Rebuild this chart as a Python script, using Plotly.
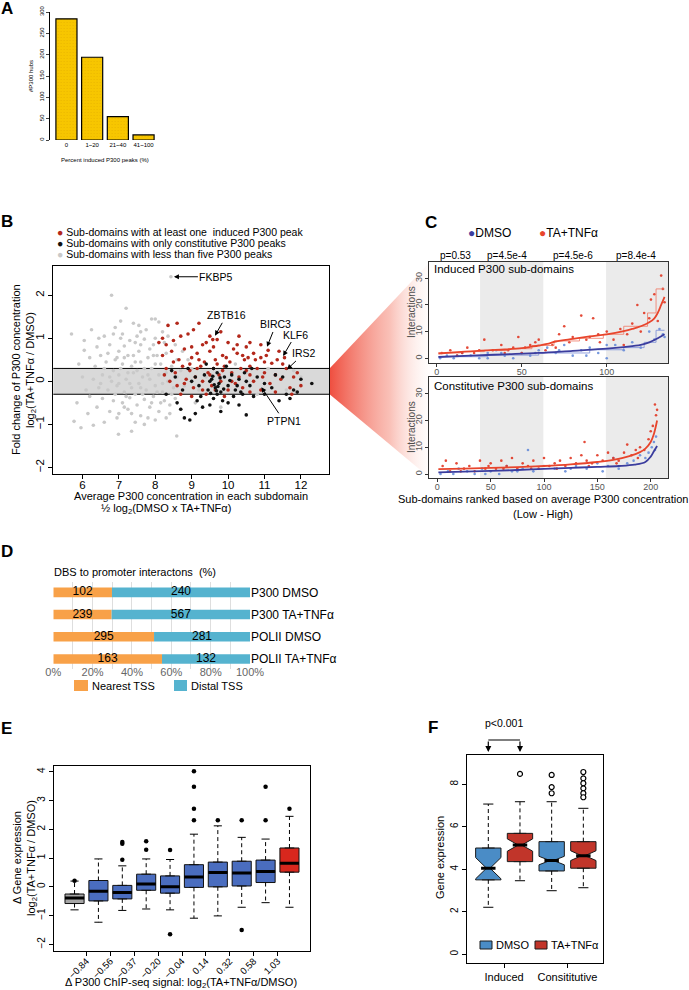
import plotly.graph_objects as go

W, H = 689, 990
FONT = "Liberation Sans, Arial, Helvetica, sans-serif"

# ---------------- data ----------------
# Panel A
a_bins = ["0", "1~20", "21~40", "41~100"]
a_hubs = [284, 194, 55, 12]

# Panel B  (average concentration, log2 fold change)
b_gray = [
    (8.43, 2.43), (6.8, 2.0), (7.2, 1.7), (5.7, 1.1), (6.05, 0.72), (6.6, 1.05), (6.9, 1.25), (7.4, 1.35), (7.9, 1.45), (8.1, 1.38),
    (7.6, 1.15), (7.05, 1.0), (7.3, 0.95), (6.4, 0.8), (6.2, 0.55), (6.5, 0.6), (6.75, 0.85), (7.0, 0.7), (7.15, 0.82), (7.45, 0.9),
    (7.7, 0.98), (7.85, 0.75), (8.0, 1.0), (8.25, 0.9), (6.9, 0.5), (7.25, 0.6), (7.55, 0.7), (7.8, 0.55), (8.05, 0.6), (8.3, 0.65),
    (6.35, 0.35), (6.6, 0.3), (6.85, 0.25), (7.1, 0.4), (7.35, 0.35), (7.6, 0.45), (7.9, 0.3), (8.15, 0.4), (8.45, 0.35), (6.0, 0.1),
    (6.3, 0.05), (6.55, 0.15), (6.8, 0.0), (7.0, 0.15), (7.2, 0.05), (7.4, 0.2), (7.65, 0.1), (7.85, 0.05), (8.1, 0.15), (8.35, 0.0),
    (8.6, 0.1), (6.45, -0.15), (6.7, -0.2), (6.95, -0.1), (7.15, -0.25), (7.35, -0.15), (7.55, -0.05), (7.75, -0.2), (8.0, -0.1), (8.2, -0.25),
    (8.5, -0.15), (6.2, -0.35), (6.55, -0.4), (6.85, -0.45), (7.1, -0.5), (7.3, -0.38), (7.5, -0.55), (7.7, -0.42), (7.95, -0.35), (8.25, -0.45),
    (8.55, -0.4), (6.4, -0.6), (6.75, -0.7), (7.0, -0.75), (7.25, -0.65), (7.6, -0.8), (7.85, -0.6), (8.1, -0.7), (8.4, -0.55), (8.7, -0.65),
    (5.77, -0.93), (5.96, -1.08), (6.3, -1.02), (6.6, -0.95), (6.99, -1.23), (7.35, -1.16), (7.7, -1.0), (8.0, -0.9), (8.59, -1.27), (8.3, -0.85),
    (6.15, -0.75), (7.45, -0.95), (7.5, 0.25), (7.65, -0.3), (7.3, -0.05), (7.05, 0.3), (7.8, 0.15), (8.0, 0.4), (7.2, -0.35), (6.95, 0.55),
    (7.4, 0.6), (7.15, -0.6), (7.6, 0.85), (8.3, 0.2), (8.45, -0.3), (8.7, 0.25), (8.8, -0.1), (9.0, 0.3), (9.2, -0.2), (8.9, 0.5),
    (9.4, 0.1), (9.1, -0.5), (10.5, 0.2), (11.1, 0.3), (11.8, 0.25), (12.0, 0.1), (10.8, -0.3), (11.6, -0.2), (9.8, -0.6), (10.2, 0.4),
    (6.25, 1.2), (6.45, 1.0), (5.9, 0.4), (6.1, -0.2), (5.85, -0.5), (6.05, 0.95), (7.1, 1.1), (7.5, 1.05), (7.75, 1.2), (6.7, 0.65),
    (7.95, 0.85), (8.2, 1.15), (7.25, 0.2), (7.45, -0.3), (7.9, -0.5), (6.9, -0.3), (7.6, -0.15), (8.05, -0.25), (7.0, -0.05), (7.7, 0.3),
    (7.15, 0.55), (6.65, 0.45), (8.15, -0.5), (7.35, -0.75), (6.95, -0.85), (7.8, -0.85), (8.4, -0.75), (8.6, 0.5), (8.75, 0.7), (8.35, 1.05),
    (7.55, 1.3), (6.85, 1.1), (7.05, 1.4), (8.55, 0.85), (8.0, 1.45), (6.5, -0.05), (6.75, 0.1), (7.45, 0.45), (7.95, 0.6), (8.2, -0.05),
]
b_red = [
    (8.2, 1.0), (8.35, 1.3), (8.6, 1.35), (9.2, 1.35), (9.7, 0.97), (10.6, 0.9), (11.1, 0.72), (11.35, 0.5), (11.2, 0.42), (8.1, 0.9),
    (8.3, 0.85), (8.5, 0.95), (8.7, 1.05), (8.9, 1.1), (9.0, 0.8), (9.3, 0.85), (9.5, 1.05), (9.8, 1.15), (10.0, 0.9), (10.3, 1.05),
    (10.7, 0.65), (10.9, 0.55), (11.5, 0.4), (11.6, 0.3), (11.8, 0.1), (12.0, -0.1), (8.2, 0.6), (8.45, 0.7), (8.65, 0.5), (8.8, 0.75),
    (9.0, 0.55), (9.15, 0.65), (9.35, 0.45), (9.5, 0.7), (9.65, 0.5), (9.85, 0.6), (10.05, 0.45), (10.25, 0.65), (10.45, 0.5), (10.6, 0.35),
    (10.8, 0.3), (11.0, 0.2), (11.3, 0.15), (8.3, 0.3), (8.55, 0.2), (8.75, 0.35), (8.95, 0.25), (9.1, 0.1), (9.25, 0.35), (9.45, 0.2),
    (9.6, 0.3), (9.75, 0.15), (9.9, 0.35), (10.1, 0.2), (10.3, 0.1), (10.5, 0.25), (10.7, 0.0), (10.95, 0.1), (11.15, -0.05), (11.45, 0.05),
    (11.7, -0.15), (8.4, 0.0), (8.6, -0.1), (8.85, 0.05), (9.05, -0.15), (9.3, 0.0), (9.55, -0.1), (9.8, 0.0), (10.0, -0.2), (10.2, -0.05),
    (10.4, -0.15), (10.6, -0.25), (10.9, -0.2), (11.3, -0.25), (11.75, -0.3), (9.0, -0.35), (9.4, -0.3), (9.9, -0.35), (8.7, -0.3), (9.6, 0.8),
    (9.4, 0.9), (10.15, 0.75), (10.5, 0.8), (9.05, 1.2), (8.95, 0.4), (9.7, 0.4), (10.35, 0.3), (9.2, 0.5), (8.5, 0.45), (10.75, 0.5),
    (11.05, 0.6), (9.95, 0.55), (10.9, 0.85), (11.4, 0.7), (10.4, 0.6), (9.15, 0.3), (9.5, 0.15), (8.8, -0.05), (9.3, -0.2), (10.1, 0.0),
    (10.6, 0.15), (11.0, 0.45), (9.85, 0.25), (10.55, 0.55), (9.58, 0.97), (11.55, 0.55), (11.9, 0.2), (8.25, 0.15), (9.65, -0.2), (10.25, 0.85),
]
b_black = [
    (8.3, -0.3), (8.45, 0.25), (8.6, -0.5), (8.7, -0.65), (8.8, -0.85), (8.95, -0.9), (9.1, -0.75), (9.3, -0.6), (9.5, -0.55), (9.6, -0.4),
    (9.8, -0.7), (10.0, -0.5), (10.3, -0.55), (10.5, -0.78), (10.7, -0.35), (11.0, -0.3), (11.6, -0.3), (11.8, -0.2), (12.3, -0.05), (12.0, 0.05),
    (11.5, 0.1), (8.9, 0.3), (9.1, 0.1), (9.2, -0.1), (9.35, 0.15), (9.45, -0.2), (9.55, 0.05), (9.65, -0.15), (9.7, 0.2), (9.75, -0.05),
    (9.8, -0.25), (9.9, 0.1), (10.0, -0.1), (10.1, 0.15), (10.2, -0.2), (10.3, 0.05), (10.4, -0.3), (10.5, 0.0), (10.6, -0.1), (10.8, 0.1),
    (11.0, -0.05), (11.2, -0.15), (9.0, 0.0), (9.25, -0.35), (9.6, 0.3), (9.85, -0.45), (10.15, -0.35), (10.45, 0.2), (8.75, -0.2), (8.55, 0.1),
    (9.4, 0.4), (9.95, 0.35), (10.65, 0.3), (11.3, 0.15), (9.15, -0.45), (9.7, -0.3), (9.5, 0.0), (9.62, -0.08), (9.78, 0.08), (9.88, -0.18),
    (10.05, 0.02), (9.58, 0.12), (9.68, -0.22), (10.25, -0.1), (11.4, -0.45), (11.7, -0.4), (11.9, -0.25), (9.72, -0.12), (9.52, -0.28), (10.35, -0.25),
]
b_band = [-0.3, 0.3]
b_genes = ["FKBP5", "ZBTB16", "BIRC3", "KLF6", "IRS2", "PTPN1"]
b_gene_x = [8.43, 9.6, 11.04, 11.47, 11.56, 10.87]
b_gene_y = [2.43, 1.0, 0.74, 0.53, 0.23, -0.08]

# Panel C  (rank, interactions)
c_p_values = ["p=0.53", "p=4.5e-4", "p=4.5e-6", "p=8.4e-4"]
c_up_bands = [[25.5, 62.7], [99.6, 136.2]]
c_lo_bands = [[40, 99.4], [158, 216.5]]
c_up_red_pts = [(3, 2), (8, 3), (12, 1), (18, 4), (22, 2), (28, 7), (33, 3), (38, 5), (42, 3), (48, 8), (52, 4), (58, 6), (60, 7),
                (64, 3), (68, 5), (72, 9), (75, 12), (80, 8), (85, 16), (88, 7), (92, 15), (96, 6), (100, 10), (104, 7), (108, 11),
                (112, 9), (115, 13), (118, 20), (120, 10), (122, 17), (125, 15), (128, 24), (130, 14), (132, 31), (133, 26), (134, 21),
                (50, 2), (40, 2), (70, 4), (95, 9), (110, 5), (126, 22), (15, 2), (25, 3), (45, 4), (55, 5), (78, 6), (90, 8)]
c_up_blue_pts = [(2, 0), (6, 1), (10, 0), (15, 2), (20, 1), (25, 0), (30, 2), (35, 3), (40, 1), (45, 0), (50, 2), (55, 1), (60, 3),
                 (65, 4), (70, 2), (75, 5), (80, 1), (85, 3), (90, 4), (95, 2), (100, 0), (105, 5), (110, 3), (115, 6), (120, 4),
                 (125, 10), (128, 7), (131, 11), (133, 9), (134, 8), (100, 5), (30, 0), (88, 1), (12, 1), (38, 2), (58, 2), (72, 3)]
c_up_red_fit_rank = [1, 10, 20, 30, 40, 50, 55, 60, 65, 70, 80, 90, 100, 110, 115, 120, 125, 128, 130, 132, 134]
c_up_red_fit = [1.8, 2.2, 2.6, 3.0, 3.3, 3.8, 4.3, 4.8, 5.4, 6.3, 7.3, 8.2, 9.0, 10.2, 11.0, 12.0, 13.5, 15.0, 17.0, 20.0, 23.0]
c_up_red_step_rank = [1, 14, 28, 42, 56, 69, 84, 98, 110, 118, 124, 129, 134]
c_up_red_step = [2.0, 2.5, 3.0, 3.6, 4.8, 6.5, 7.5, 9.0, 12.0, 12.0, 17.0, 26.0, 26.0]
c_up_blue_fit_rank = [1, 20, 40, 60, 80, 100, 110, 120, 125, 130, 134]
c_up_blue_fit = [0.5, 1.0, 1.5, 2.0, 2.8, 3.6, 4.2, 5.0, 6.0, 7.5, 9.0]
c_up_blue_step_rank = [1, 30, 60, 90, 110, 122, 129, 134]
c_up_blue_step = [0.6, 1.2, 2.0, 3.2, 4.0, 6.0, 10.5, 10.5]
c_lo_red_pts = [(5, 3), (8, 5), (12, 1), (18, 4), (25, 2), (30, 3), (35, 1), (40, 5), (45, 2), (50, 4), (55, 2), (60, 5), (65, 3),
                (70, 6), (75, 2), (80, 4), (85, 3), (90, 5), (95, 2), (100, 6), (105, 3), (110, 4), (115, 5), (120, 3), (125, 6),
                (130, 4), (135, 7), (138, 12), (140, 5), (145, 4), (150, 7), (155, 5), (160, 8), (165, 6), (170, 5), (175, 8),
                (178, 11), (182, 7), (186, 9), (190, 10), (194, 9), (198, 13), (200, 16), (202, 18), (204, 26), (205, 22), (206, 24),
                (22, 1), (48, 3), (62, 2), (88, 2), (112, 2), (142, 3), (168, 4), (188, 6)]
c_lo_blue_pts = [(3, 0), (10, 1), (15, 0), (20, 2), (28, 1), (35, 0), (42, 2), (50, 1), (58, 0), (65, 3), (70, 1), (80, 2), (85, 9),
                 (90, 1), (100, 3), (110, 2), (120, 1), (130, 3), (140, 2), (150, 4), (160, 3), (165, 6), (170, 2), (178, 4),
                 (184, 5), (190, 7), (195, 6), (198, 8), (201, 10), (203, 12), (205, 14), (204, 9), (45, 0), (75, 1), (125, 2), (155, 1)]
c_lo_red_fit_rank = [1, 25, 50, 75, 100, 125, 150, 165, 180, 190, 195, 200, 203, 206]
c_lo_red_fit = [1.8, 2.0, 2.3, 2.6, 3.0, 3.6, 4.5, 5.3, 6.7, 8.2, 9.5, 12.0, 15.0, 20.0]
c_lo_blue_fit_rank = [1, 25, 50, 75, 100, 125, 150, 170, 185, 195, 200, 203, 206]
c_lo_blue_fit = [0.6, 0.9, 1.2, 1.5, 1.9, 2.3, 2.7, 3.0, 3.5, 4.5, 6.5, 8.5, 10.5]

# Panel D
d_rows = ["P300 DMSO", "P300 TA+TNFα", "POLII DMSO", "POLII TA+TNFα"]
d_nearest = [102, 239, 295, 163]
d_distal = [240, 567, 281, 132]
d_ticks = [0, 20, 40, 60, 80, 100]

# Panel E
e_labels = ["\u22120.84", "\u22120.56", "\u22120.37", "\u22120.20", "\u22120.04", "0.14", "0.32", "0.58", "1.03"]
e_q1 = [-0.58, -0.49, -0.42, -0.12, -0.22, -0.02, 0.0, 0.03, 0.15, 0.51]
e_med = [-0.39, -0.15, -0.2, 0.1, 0.0, 0.34, 0.5, 0.48, 0.53, 0.82]
e_q3 = [-0.25, 0.22, 0.05, 0.44, 0.38, 0.77, 0.86, 0.89, 0.93, 1.35]
e_lo = [-0.8, -1.23, -0.82, -0.77, -0.8, -1.09, -1.01, -0.71, -0.55, -0.71]
e_hi = [0.2, 0.97, 0.73, 0.97, 0.95, 1.83, 2.12, 1.72, 1.66, 2.45]
e_out_box = [1, 3, 3, 3, 4, 4, 5, 5, 6, 6, 6, 6, 7, 8, 8, 9, 9, 10]
e_out_val = [0.21, 0.94, 1.5, 1.56, 1.29, 1.58, 1.28, -1.65, 2.31, 2.71, 3.48, 4.02, 2.31, 2.31, -1.5, 2.31, 3.48, 2.71]
e_group = ["low"] + ["mid"] * 8 + ["high"]

# Panel F
f_groups = ["Induced", "Consititutive"]
f_treat = ["DMSO", "TA+TNFα", "DMSO", "TA+TNFα"]
f_q1 = [3.5, 4.36, 3.92, 4.05]
f_med = [4.05, 5.14, 4.41, 4.64]
f_q3 = [5.0, 5.69, 5.3, 5.3]
f_lo = [2.21, 3.46, 2.99, 3.13]
f_hi = [7.07, 7.18, 7.18, 6.87]
f_notch = [0.5, 0.29, 0.2, 0.23]
f_out_box = [2, 3, 3, 3, 4, 4, 4, 4, 4, 4]
f_out_val = [8.49, 8.44, 7.87, 7.58, 8.58, 8.28, 8.05, 7.81, 7.58, 7.39]

# ---------------- helpers ----------------
def xd(a, b):
    return [a / W, b / W]

def yd(a, b):
    return [1 - b / H, 1 - a / H]

def px(x):
    return x / W

def py(y):
    return 1 - y / H

annotations = []
shapes = []

def ann(text, x, y, size=11, xanchor="center", yanchor="middle", angle=0, color="black", bold=False):
    if bold:
        text = "<b>" + text + "</b>"
    annotations.append(dict(text=text, x=px(x), y=py(y), xref="paper", yref="paper", showarrow=False,
                            xanchor=xanchor, yanchor=yanchor, textangle=angle,
                            font=dict(size=size, color=color, family=FONT)))

def frame_axes(size=10, color="black", lc="black"):
    return dict(showline=True, linecolor=lc, linewidth=1, mirror=True, ticks="outside", ticklen=4,
                tickwidth=1, tickcolor=lc, showgrid=False, zeroline=False, automargin=False,
                tickfont=dict(size=size, family=FONT, color=color))

fig = go.Figure()

# ---------------- wedge (decoration linking B to C) ----------------
fig.add_trace(go.Scatter(
    x=[329.3, 430, 430, 329.3], y=[368.7, 262, 478, 394], fill="toself", mode="lines",
    line=dict(width=0), hoverinfo="skip", xaxis="x", yaxis="y",
    fillgradient=dict(type="horizontal",
                      colorscale=[[0, "rgba(238,68,52,0.95)"], [0.6, "rgba(246,150,135,0.6)"], [1, "rgba(255,240,236,0.15)"]])))

# ---------------- A ----------------
fig.add_trace(go.Bar(x=a_bins, y=a_hubs, xaxis="x2", yaxis="y2", width=0.82,
                     marker=dict(color="#f7c600", line=dict(color="black", width=1.2),
                                 pattern=dict(shape=".", fgcolor="#d9a000", size=3, solidity=0.12, fillmode="overlay"))))

# ---------------- B ----------------
for pts, col in [(b_gray, "#c9c9c9"), (b_red, "#b3281b"), (b_black, "#111111")]:
    fig.add_trace(go.Scatter(x=[p[0] for p in pts], y=[p[1] for p in pts], mode="markers", xaxis="x3", yaxis="y3",
                             marker=dict(size=3.6, color=col, line=dict(width=0))))
shapes.append(dict(type="rect", xref="x3 domain", yref="y3", x0=0, x1=1, y0=b_band[0], y1=b_band[1],
                   fillcolor="#d9d9d9", line=dict(width=0), layer="below"))
for yb in b_band:
    shapes.append(dict(type="line", xref="x3 domain", yref="y3", x0=0, x1=1, y0=yb, y1=yb,
                       line=dict(color="black", width=1), layer="below"))
gene_offsets = [(45, 0), (13, -23), (10, -25), (14, -24), (19, -18), (24, 36)]
for g, gx, gy, (ox, oy) in zip(b_genes, b_gene_x, b_gene_y, gene_offsets):
    annotations.append(dict(text=g, x=gx, y=gy, xref="x3", yref="y3", ax=ox, ay=oy, showarrow=True,
                            arrowhead=2, arrowsize=1, arrowwidth=1, arrowcolor="black", standoff=3,
                            font=dict(size=10.5, family=FONT, color="black")))

# ---------------- C ----------------
RED_C, BLUE_C = "#e8452c", "#3b3d9e"
for (xa, ya, rp, bp, rfr, rf, bfr, bf) in [
    ("x4", "y4", c_up_red_pts, c_up_blue_pts, c_up_red_fit_rank, c_up_red_fit, c_up_blue_fit_rank, c_up_blue_fit),
    ("x5", "y5", c_lo_red_pts, c_lo_blue_pts, c_lo_red_fit_rank, c_lo_red_fit, c_lo_blue_fit_rank, c_lo_blue_fit)]:
    fig.add_trace(go.Scatter(x=[p[0] for p in bp], y=[p[1] for p in bp], mode="markers", xaxis=xa, yaxis=ya,
                             marker=dict(size=2.6, color="rgba(95,135,215,0.85)")))
    fig.add_trace(go.Scatter(x=[p[0] for p in rp], y=[p[1] for p in rp], mode="markers", xaxis=xa, yaxis=ya,
                             marker=dict(size=2.6, color="rgba(225,55,35,0.9)")))
    if xa == "x4":
        fig.add_trace(go.Scatter(x=c_up_red_step_rank, y=c_up_red_step, mode="lines", line_shape="hv", xaxis=xa, yaxis=ya,
                                 line=dict(color="rgba(240,120,100,0.8)", width=1)))
        fig.add_trace(go.Scatter(x=c_up_blue_step_rank, y=c_up_blue_step, mode="lines", line_shape="hv", xaxis=xa, yaxis=ya,
                                 line=dict(color="rgba(120,140,215,0.8)", width=1)))
    fig.add_trace(go.Scatter(x=bfr, y=bf, mode="lines", line_shape="spline", xaxis=xa, yaxis=ya,
                             line=dict(color=BLUE_C, width=1.8)))
    fig.add_trace(go.Scatter(x=rfr, y=rf, mode="lines", line_shape="spline", xaxis=xa, yaxis=ya,
                             line=dict(color=RED_C, width=1.8)))
for xa, ya, bands in [("x4", "y4", c_up_bands), ("x5", "y5", c_lo_bands)]:
    for b0, b1 in bands:
        shapes.append(dict(type="rect", xref=xa, yref=ya + " domain", x0=b0, x1=b1, y0=0, y1=1,
                           fillcolor="#ebebeb", line=dict(width=0), layer="below"))

# ---------------- D ----------------
d_pos = list(range(len(d_rows)))
d_tot = [n + d for n, d in zip(d_nearest, d_distal)]
d_pn = [100.0 * n / t for n, t in zip(d_nearest, d_tot)]
d_pd = [100.0 * d / t for d, t in zip(d_distal, d_tot)]
fig.add_trace(go.Bar(y=d_pos, x=d_pn, base=[0] * 4, orientation="h", width=0.43, xaxis="x6", yaxis="y6",
                     marker=dict(color="#f8a148", line=dict(width=0))))
fig.add_trace(go.Bar(y=d_pos, x=d_pd, base=d_pn, orientation="h", width=0.43, xaxis="x6", yaxis="y6",
                     marker=dict(color="#55b3cf", line=dict(width=0))))
fig.add_trace(go.Scatter(x=[v / 2 for v in d_pn] + [a + b / 2 for a, b in zip(d_pn, d_pd)], y=d_pos + d_pos,
                         text=[str(v) for v in d_nearest + d_distal], mode="text", xaxis="x6", yaxis="y6",
                         textfont=dict(size=12, family=FONT, color="black")))

# ---------------- E ----------------
E_COL = {"low": "#a5a5a5", "mid": "#4a6dbf", "high": "#d8271d"}
e_pos = list(range(1, len(e_q1) + 1))
wx, wy, cx, cy = [], [], [], []
for p, lo, q1, q3, hi in zip(e_pos, e_lo, e_q1, e_q3, e_hi):
    wx += [p, p, None, p, p, None]
    wy += [q3, hi, None, q1, lo, None]
    cx += [p - 0.17, p + 0.17, None, p - 0.17, p + 0.17, None]
    cy += [hi, hi, None, lo, lo, None]
fig.add_trace(go.Scatter(x=wx, y=wy, mode="lines", xaxis="x7", yaxis="y7", line=dict(color="black", width=1, dash="4px,3px")))
fig.add_trace(go.Scatter(x=cx, y=cy, mode="lines", xaxis="x7", yaxis="y7", line=dict(color="black", width=1)))
for p, q1, m, q3, g in zip(e_pos, e_q1, e_med, e_q3, e_group):
    fig.add_trace(go.Box(x=[p], q1=[q1], median=[m], q3=[q3], lowerfence=[q1], upperfence=[q3], width=0.8,
                         xaxis="x7", yaxis="y7", fillcolor=E_COL[g], line=dict(color="#111111", width=1)))
mx, my = [], []
for p, m in zip(e_pos, e_med):
    mx += [p - 0.4, p + 0.4, None]
    my += [m, m, None]
fig.add_trace(go.Scatter(x=mx, y=my, mode="lines", xaxis="x7", yaxis="y7", line=dict(color="black", width=3)))
fig.add_trace(go.Scatter(x=e_out_box, y=e_out_val, mode="markers", xaxis="x7", yaxis="y7",
                         marker=dict(size=4.5, color="black")))

# ---------------- F ----------------
F_COL = {"DMSO": "#4a8cc6", "TA+TNFα": "#c1352a"}
f_pos = list(range(1, len(f_q1) + 1))
NW = 0.43
wx, wy, cx, cy = [], [], [], []
for p, lo, q1, q3, hi in zip(f_pos, f_lo, f_q1, f_q3, f_hi):
    wx += [p, p, None, p, p, None]
    wy += [q3, hi, None, q1, lo, None]
    cx += [p - 0.16, p + 0.16, None, p - 0.16, p + 0.16, None]
    cy += [hi, hi, None, lo, lo, None]
fig.add_trace(go.Scatter(x=wx, y=wy, mode="lines", xaxis="x8", yaxis="y8", line=dict(color="black", width=1, dash="4px,3px")))
fig.add_trace(go.Scatter(x=cx, y=cy, mode="lines", xaxis="x8", yaxis="y8", line=dict(color="black", width=1)))
for p, q1, m, q3, nt, t in zip(f_pos, f_q1, f_med, f_q3, f_notch, f_treat):
    fig.add_trace(go.Box(x=[p], q1=[q1], median=[m], q3=[q3], lowerfence=[q1], upperfence=[q3], width=0.8,
                         notched=True, notchspan=[nt], notchwidth=NW,
                         xaxis="x8", yaxis="y8", fillcolor=F_COL[t], line=dict(color="#1a1a1a", width=1)))
mx, my = [], []
for p, m in zip(f_pos, f_med):
    mx += [p - 0.4 * (1 - NW), p + 0.4 * (1 - NW), None]
    my += [m, m, None]
fig.add_trace(go.Scatter(x=mx, y=my, mode="lines", xaxis="x8", yaxis="y8", line=dict(color="black", width=3)))
fig.add_trace(go.Scatter(x=f_out_box, y=f_out_val, mode="markers", xaxis="x8", yaxis="y8",
                         marker=dict(size=5, color="white", line=dict(color="black", width=1.2))))
# p-value bracket
shapes.append(dict(type="line", xref="x8", yref="paper", x0=1, x1=2, y0=py(740), y1=py(740),
                   line=dict(color="black", width=1.2)))
for xb in [1, 2]:
    annotations.append(dict(text="", x=xb, y=py(752), xref="x8", yref="paper", ax=0, ay=-12, showarrow=True,
                            arrowhead=2, arrowsize=1, arrowwidth=1.2, arrowcolor="black"))
annotations.append(dict(text="p<0.001", x=1.5, y=py(731), xref="x8", yref="paper", showarrow=False,
                        font=dict(size=10.5, family=FONT, color="black")))

# ---------------- texts ----------------
# letters
for L, x, y in [("A", 7, 9), ("B", 6.5, 221.5), ("C", 431, 222.5), ("D", 6.5, 551), ("E", 6, 728), ("F", 432.5, 727.5)]:
    ann(L, x, y, size=17, bold=True)
# A
ann("#P300 hubs", 31, 76, size=6, angle=-90)
ann("Percent induced P300 peaks (%)", 105, 160, size=6)
# B legend
ann('<span style="color:#b3281b">●</span> Sub-domains with at least one  induced P300 peak', 55, 231.7, size=10.5, xanchor="left")
ann('<span style="color:#111111">●</span> Sub-domains with only constitutive P300 peaks', 55, 243, size=10.5, xanchor="left")
ann('<span style="color:#c9c9c9">●</span> Sub-domains with less than five P300 peaks', 55, 254.3, size=10.5, xanchor="left")
ann("Fold change of P300 concentration", 16, 370, size=11, angle=-90)
ann("log<sub>2</sub>(TA+TNFα / DMSO)", 31, 370, size=11, angle=-90)
ann("Average P300 concentration in each subdomain", 191, 496, size=11)
ann("½ log<sub>2</sub>(DMSO x TA+TNFα)", 166, 509, size=11)
# C
ann('<span style="color:#3b3d9e">●</span>DMSO', 489, 233.3, size=12)
ann('<span style="color:#e8452c">●</span>TA+TNFα', 568, 233.3, size=12)
for t, x in zip(c_p_values, [455, 507, 573, 636]):
    ann(t, x, 255.7, size=10)
ann("Induced P300 sub-domains", 432, 269.5, size=11.5, xanchor="left")
ann("Constitutive P300 sub-domains", 432, 385.5, size=11.5, xanchor="left")
ann("Interactions", 411, 312, size=10, angle=-90, color="#4d4d4d")
ann("Interactions", 411, 427, size=10, angle=-90, color="#4d4d4d")
ann("Sub-domains ranked based on average P300 concentration", 543, 499, size=11)
ann("(Low - High)", 543, 514, size=11)
# D
ann("DBS to promoter interactons  (%)", 52, 572, size=11, xanchor="left")
shapes.append(dict(type="rect", xref="paper", yref="paper", x0=px(74), x1=px(88), y0=py(691), y1=py(680),
                   fillcolor="#f8a148", line=dict(width=0)))
shapes.append(dict(type="rect", xref="paper", yref="paper", x0=px(174), x1=px(187), y0=py(691), y1=py(680),
                   fillcolor="#55b3cf", line=dict(width=0)))
ann("Nearest TSS", 90, 686, size=11, xanchor="left")
ann("Distal TSS", 189, 686, size=11, xanchor="left")
# E
ann("Δ Gene expression", 17, 858, size=11, angle=-90)
ann("log<sub>2</sub>(TA+TNFα / DMSO)", 32, 858, size=11, angle=-90)
ann("Δ P300 ChIP-seq signal: log<sub>2</sub>(TA+TNFα/DMSO)", 181, 983, size=11)
# F
ann("Gene expression", 440, 858, size=11, angle=-90)
shapes.append(dict(type="rect", xref="paper", yref="paper", x0=px(480), x1=px(492), y0=py(949), y1=py(941),
                   fillcolor=F_COL["DMSO"], line=dict(color="#1a1a1a", width=1)))
shapes.append(dict(type="rect", xref="paper", yref="paper", x0=px(535), x1=px(547), y0=py(949), y1=py(941),
                   fillcolor=F_COL["TA+TNFα"], line=dict(color="#1a1a1a", width=1)))
ann("DMSO", 494, 945, size=11, xanchor="left")
ann("TA+TNFα", 549, 945, size=11, xanchor="left")

# ---------------- layout ----------------
hidden = dict(visible=False, showgrid=False, zeroline=False, fixedrange=True, automargin=False)
c_axes = {**frame_axes(9, "#555555", "#333333"), "ticklen": 3}

layout = dict(
    width=W, height=H, margin=dict(l=0, r=0, t=0, b=0), template="none",
    paper_bgcolor="white", plot_bgcolor="rgba(0,0,0,0)", showlegend=False,
    font=dict(family=FONT, color="black"), barmode="overlay", boxmode="overlay",
    xaxis=dict(domain=[0, 1], range=[0, W], anchor="y", **hidden),
    yaxis=dict(domain=[0, 1], range=[H, 0], anchor="x", **hidden),
    # A
    xaxis2=dict(domain=xd(53.6, 156.4), anchor="y2", type="category", showline=False, ticks="",
                showgrid=False, zeroline=False, automargin=False, tickfont=dict(size=6, family=FONT)),
    yaxis2=dict(domain=yd(12, 140), range=[0, 300], anchor="free", position=49 / W, showline=True,
                linecolor="black", linewidth=0.8, ticks="outside", ticklen=3, tickwidth=0.8,
                tickvals=[0, 50, 100, 150, 200, 250, 300], tickangle=-90, showgrid=False, zeroline=False,
                automargin=False, tickfont=dict(size=6, family=FONT)),
    # B
    xaxis3=dict(domain=xd(53.3, 329.3), range=[5.2, 12.78], anchor="y3", tickvals=[6, 7, 8, 9, 10, 11, 12],
                ticklabelstandoff=-4, **frame_axes(11.5)),
    yaxis3=dict(domain=yd(266, 474.3), range=[-2.16, 2.68], anchor="x3", tickvals=[-2, -1, 0, 1, 2],
                tickangle=-90, **frame_axes(11.5)),
    # C upper
    xaxis4=dict(domain=xd(429.3, 668.3), range=[-4.35, 136.2], anchor="y4", tickvals=[0, 50, 100],
                ticklabelstandoff=-3, **c_axes),
    yaxis4=dict(domain=yd(261.7, 363.3), range=[-1.87, 36.2], anchor="x4", tickvals=[0, 10, 20, 30],
                tickangle=-90, **c_axes),
    # C lower
    xaxis5=dict(domain=xd(429.3, 668.3), range=[-7.5, 216.5], anchor="y5", tickvals=[0, 50, 100, 150, 200],
                ticklabelstandoff=-3, **c_axes),
    yaxis5=dict(domain=yd(376.7, 478.3), range=[-1.6, 36.4], anchor="x5", tickvals=[0, 10, 20, 30],
                tickangle=-90, **c_axes),
    # D
    xaxis6=dict(domain=xd(53.3, 250), range=[0, 100], anchor="y6", tickmode="array", tickvals=d_ticks,
                ticktext=[str(t) + "%" for t in d_ticks], ticks="", showline=False, zeroline=False,
                showgrid=True, gridcolor="#dedede", gridwidth=1.4, automargin=False, ticklabelstandoff=-5,
                minor=dict(dtick=10, tick0=0, showgrid=True, gridcolor="#dedede", gridwidth=1.2),
                tickfont=dict(size=11, family=FONT, color="#666666")),
    yaxis6=dict(domain=yd(582.4, 669), range=[3.45, -0.45], anchor="x6", side="right", tickvals=d_pos,
                ticktext=d_rows, ticks="", showline=False, showgrid=False, zeroline=False, automargin=False,
                tickfont=dict(size=12, family=FONT, color="black")),
    # E
    xaxis7=dict(domain=xd(54, 310), range=[0.14, 10.86], anchor="y7",
                tickvals=[i + 0.5 for i in range(1, 10)], ticktext=e_labels, tickangle=-45,
                ticklabelstandoff=-4, **frame_axes(9.5)),
    yaxis7=dict(domain=yd(765.7, 951), range=[-2.23, 4.21], anchor="x7", tickvals=[-2, -1, 0, 1, 2, 3, 4],
                tickangle=-90, **frame_axes(10)),
    # F
    xaxis8=dict(domain=xd(467.3, 603.3), range=[0.337, 4.63], anchor="y8", tickvals=[1.5, 3.5],
                ticktext=f_groups, **frame_axes(11)),
    yaxis8=dict(domain=yd(755, 962.7), range=[-0.4, 9.38], anchor="x8", tickvals=[0, 2, 4, 6, 8],
                tickangle=-90, **frame_axes(10)),
    annotations=annotations, shapes=shapes,
)
fig.update_layout(**layout)
fig.write_html("out.html", config={"displayModeBar": False},
               post_script="document.body.style.margin='0';document.body.style.overflow='hidden';")
